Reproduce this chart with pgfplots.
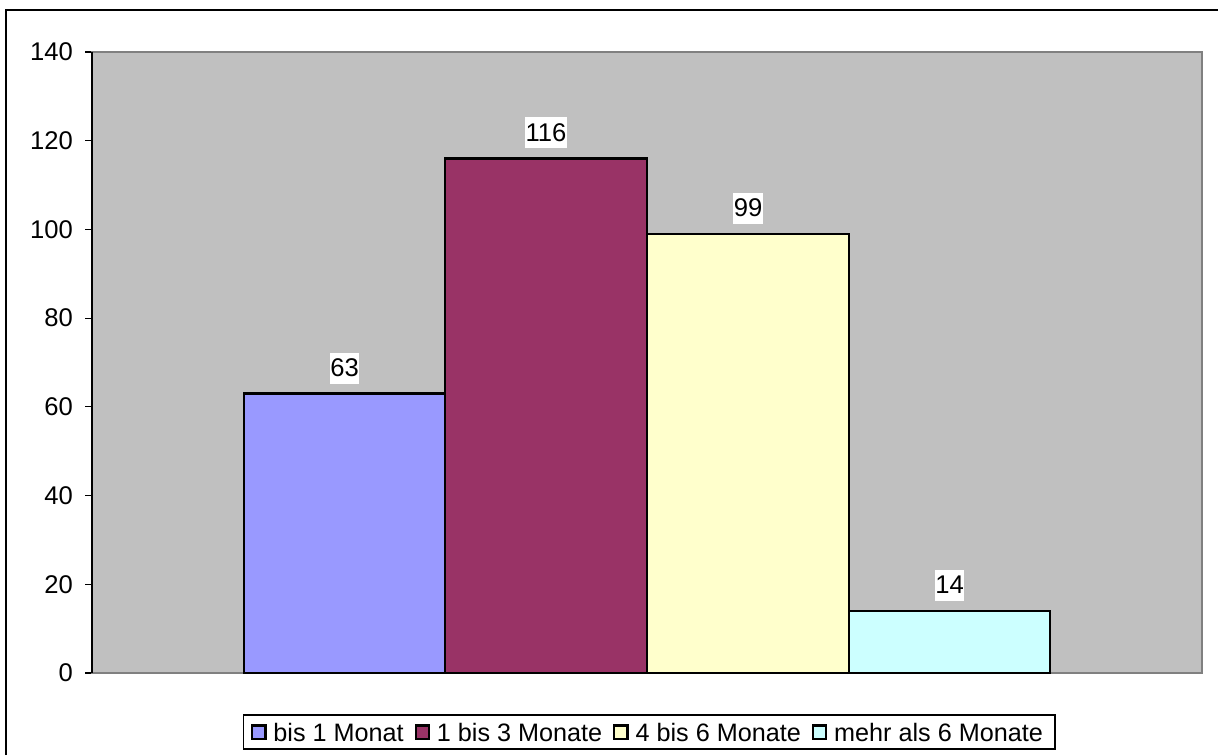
\documentclass[border=0pt]{standalone}
\usepackage{fontspec}
\setmainfont{Liberation Sans}
\usepackage{pgfplots}
\pgfplotsset{compat=1.18}
\definecolor{plotbg}{HTML}{C0C0C0}
\definecolor{cA}{HTML}{9999FF}
\definecolor{cB}{HTML}{993366}
\definecolor{cC}{HTML}{FFFFCC}
\definecolor{cD}{HTML}{CCFFFF}
\definecolor{frame}{HTML}{808080}
\begin{document}
\begin{tikzpicture}
\useasboundingbox (0,0) rectangle (609pt,377.5pt);
\draw[black, line width=0.6pt] (3pt,0) -- (3pt,372.5pt) -- (609pt,372.5pt);
\begin{axis}[
  at={(46pt,41pt)}, anchor=south west,
  scale only axis,
  width=555pt, height=310.5pt,
  xmin=92, xmax=1202,
  ymin=0, ymax=140,
  ytick={0,20,...,140},
  ytick pos=left,
  xtick=\empty,
  axis background/.style={fill=plotbg},
  axis line style={draw=frame, line width=1pt},
  ytick style={black, line width=0.6pt},
  tick align=outside,
  major tick length=3.5pt,
  ticklabel style={font=\fontsize{12.8}{14}\selectfont},
  yticklabel style={xshift=-2.5pt},
  /pgf/number format/assume math mode=true,
  ybar,
  bar width=201.5,
  nodes near coords,
  every node near coord/.append style={font=\fontsize{12.8}{14}\selectfont, fill=white, text=black, draw=none, inner xsep=0.3pt, inner ysep=0pt, text height=11.8pt, text depth=3.7pt, outer sep=0pt, anchor=south, yshift=5pt},
  legend columns=4,
  legend image code/.code={\draw[#1, line width=1.1pt] (0pt,-3.3pt) rectangle (6.6pt,3.3pt); \path (8pt,0);},
  legend style={at={(0.5018,-0.095)}, anchor=center, draw=black, line width=0.6pt,
    inner xsep=4pt, inner ysep=3pt,
    font=\fontsize{12.6}{14}\selectfont,
    nodes={inner xsep=2pt, inner ysep=1pt, text height=9pt, text depth=0pt},
    /tikz/every even column/.append style={column sep=3.5pt}},
  clip=false,
]
\addplot[bar shift=0pt, fill=cA, draw=black, line width=1.2pt] coordinates {(344.5,63)};
\addplot[bar shift=0pt, fill=cB, draw=black, line width=1.2pt] coordinates {(546,116)};
\addplot[bar shift=0pt, fill=cC, draw=black, line width=1.2pt] coordinates {(748,99)};
\addplot[bar shift=0pt, fill=cD, draw=black, line width=1.2pt] coordinates {(949.5,14)};
\legend{bis 1 Monat, 1 bis 3 Monate, 4 bis 6 Monate, mehr als 6 Monate}
\draw[black, line width=0.7pt] (rel axis cs:0,0) -- (rel axis cs:0,1);
\end{axis}
\end{tikzpicture}
\end{document}
